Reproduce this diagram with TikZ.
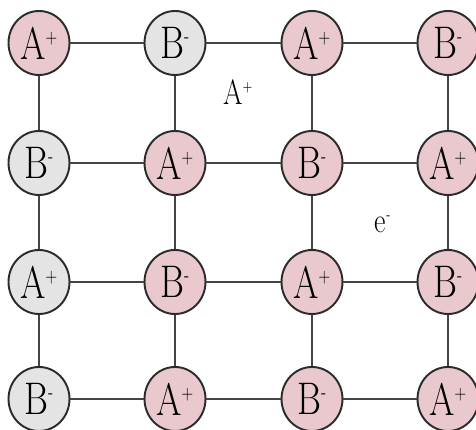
\documentclass[tikz,border=0pt]{standalone}
\usepackage{graphicx}
\usetikzlibrary{positioning, shapes.geometric}

\definecolor{ionpink}{HTML}{E9C9CD}
\definecolor{iongray}{HTML}{E4E4E4}
\definecolor{ionedge}{HTML}{2B2B2B}
\definecolor{bondcol}{HTML}{444444}

\newcommand{\chg}[1]{\textsuperscript{\fontsize{0.6em}{0.6em}\selectfont #1}}
\newcommand{\ionA}{\scalebox{0.8}[1]{A\chg{+}}}
\newcommand{\ionB}{\scalebox{0.8}[1]{B\chg{-}}}

\begin{document}
\begin{tikzpicture}[
    ion/.style={draw=ionedge, ellipse, line width=1.1pt, minimum width=1.22cm, minimum height=1.28cm, inner sep=0pt, font=\fontsize{26}{30}\selectfont},
    pk/.style={ion, fill=ionpink},
    gy/.style={ion, fill=iongray},
    bond/.style={draw=bondcol, line width=1.1pt},
    free/.style={anchor=base, font=\fontsize{20}{24}\selectfont}
]
\useasboundingbox (0,0) rectangle (9.52,8.6);

\node[pk] (n11) at (0.78, 7.74) {\ionA};
\node[gy] (n12) at (3.50, 7.74) {\ionB};
\node[pk] (n13) at (6.24, 7.74) {\ionA};
\node[pk] (n14) at (8.96, 7.74) {\ionB};

\node[gy] (n21) at (0.78, 5.34) {\ionB};
\node[pk] (n22) at (3.50, 5.34) {\ionA};
\node[pk] (n23) at (6.24, 5.34) {\ionB};
\node[pk] (n24) at (8.96, 5.34) {\ionA};

\node[gy] (n31) at (0.78, 2.96) {\ionA};
\node[pk] (n32) at (3.50, 2.96) {\ionB};
\node[pk] (n33) at (6.24, 2.96) {\ionA};
\node[pk] (n34) at (8.96, 2.96) {\ionB};

\node[gy] (n41) at (0.78, 0.62) {\ionB};
\node[pk] (n42) at (3.50, 0.62) {\ionA};
\node[pk] (n43) at (6.24, 0.62) {\ionB};
\node[pk] (n44) at (8.96, 0.62) {\ionA};

\node[free] (fa) at (4.76, 6.50) {\scalebox{0.8}[1]{A\chg{+}}};
\node[free] (fe) at (7.66, 3.94) {\scalebox{0.8}[1]{e\chg{-}}};

% rows
\draw[bond] (n11) -- (n12);
\draw[bond] (n12) -- (n13);
\draw[bond] (n13) -- (n14);
\draw[bond] (n21) -- (n22);
\draw[bond] (n22) -- (n23);
\draw[bond] (n23) -- (n24);
\draw[bond] (n31) -- (n32);
\draw[bond] (n32) -- (n33);
\draw[bond] (n33) -- (n34);
\draw[bond] (n41) -- (n42);
\draw[bond] (n42) -- (n43);
\draw[bond] (n43) -- (n44);
% columns
\draw[bond] (n11) -- (n21);
\draw[bond] (n21) -- (n31);
\draw[bond] (n31) -- (n41);
\draw[bond] (n12) -- (n22);
\draw[bond] (n22) -- (n32);
\draw[bond] (n32) -- (n42);
\draw[bond] (n13) -- (n23);
\draw[bond] (n23) -- (n33);
\draw[bond] (n33) -- (n43);
\draw[bond] (n14) -- (n24);
\draw[bond] (n24) -- (n34);
\draw[bond] (n34) -- (n44);
\end{tikzpicture}
\end{document}
